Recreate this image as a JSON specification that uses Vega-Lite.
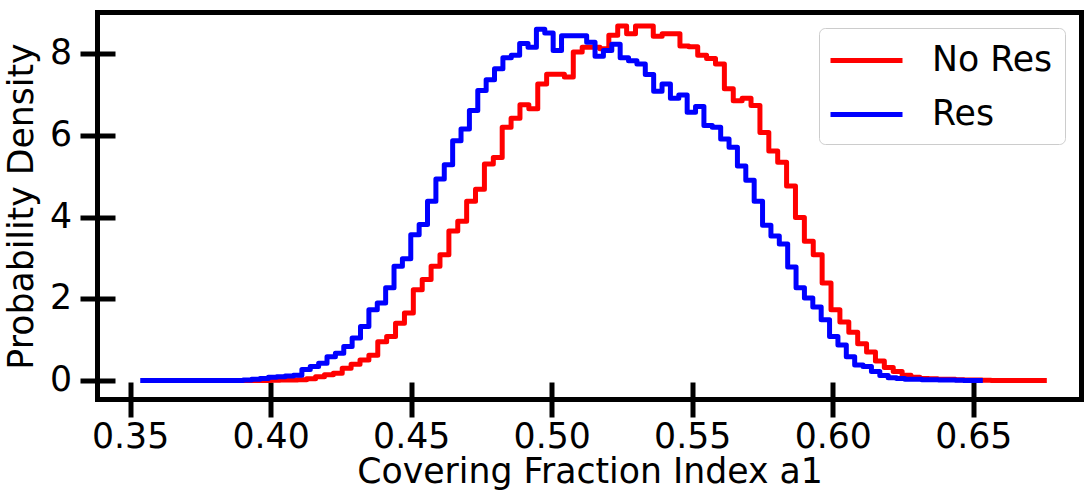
{
  "$schema": "https://vega.github.io/schema/vega-lite/v6.json",
  "width": 984,
  "height": 387,
  "autosize": "none",
  "padding": {"left": 97.5, "top": 12.5, "right": 6.5, "bottom": 97.5},
  "background": "white",
  "config": {
    "font": "DejaVu Sans",
    "view": {"stroke": "black", "strokeWidth": 5},
    "axis": {"grid": false, "domain": false, "labelFont": "DejaVu Sans", "titleFont": "DejaVu Sans", "labelColor": "black", "titleColor": "black", "tickColor": "black", "labelFontSize": 34.7, "titleFontSize": 34.7, "titleFontWeight": "normal", "tickWidth": 5, "tickSize": 35, "offset": -17.5, "labelFlush": false, "labelOverlap": false}
  },
  "datasets": {
    "red": [
      {"s":"No Res","x":0.35907,"y":0},{"s":"No Res","x":0.36223,"y":0},{"s":"No Res","x":0.3654,"y":0},{"s":"No Res","x":0.36856,"y":0},{"s":"No Res","x":0.37172,"y":0},{"s":"No Res","x":0.37488,"y":0},{"s":"No Res","x":0.37804,"y":0},{"s":"No Res","x":0.38121,"y":0},{"s":"No Res","x":0.38437,"y":0},{"s":"No Res","x":0.38753,"y":0},
      {"s":"No Res","x":0.39069,"y":0},{"s":"No Res","x":0.39385,"y":0},{"s":"No Res","x":0.39701,"y":0},{"s":"No Res","x":0.40018,"y":0.005},{"s":"No Res","x":0.40334,"y":0.01},{"s":"No Res","x":0.4065,"y":0.015},{"s":"No Res","x":0.40966,"y":0.02},{"s":"No Res","x":0.41282,"y":0.04},{"s":"No Res","x":0.41599,"y":0.09},{"s":"No Res","x":0.41915,"y":0.14},
      {"s":"No Res","x":0.42231,"y":0.18},{"s":"No Res","x":0.42547,"y":0.30},{"s":"No Res","x":0.42863,"y":0.40},{"s":"No Res","x":0.4318,"y":0.50},{"s":"No Res","x":0.43496,"y":0.62},{"s":"No Res","x":0.43812,"y":0.95},{"s":"No Res","x":0.44128,"y":1.08},{"s":"No Res","x":0.44444,"y":1.40},{"s":"No Res","x":0.44761,"y":1.65},{"s":"No Res","x":0.45077,"y":2.22},
      {"s":"No Res","x":0.45393,"y":2.47},{"s":"No Res","x":0.45709,"y":2.80},{"s":"No Res","x":0.46025,"y":3.08},{"s":"No Res","x":0.46342,"y":3.66},{"s":"No Res","x":0.46658,"y":3.90},{"s":"No Res","x":0.46974,"y":4.39},{"s":"No Res","x":0.4729,"y":4.68},{"s":"No Res","x":0.47606,"y":5.30},{"s":"No Res","x":0.47923,"y":5.46},{"s":"No Res","x":0.48239,"y":6.20},
      {"s":"No Res","x":0.48555,"y":6.42},{"s":"No Res","x":0.48871,"y":6.75},{"s":"No Res","x":0.49187,"y":6.65},{"s":"No Res","x":0.49504,"y":7.26},{"s":"No Res","x":0.4982,"y":7.50},{"s":"No Res","x":0.50136,"y":7.50},{"s":"No Res","x":0.50452,"y":7.43},{"s":"No Res","x":0.50768,"y":8.04},{"s":"No Res","x":0.51085,"y":8.16},{"s":"No Res","x":0.51401,"y":8.16},
      {"s":"No Res","x":0.51717,"y":8.12},{"s":"No Res","x":0.52033,"y":8.45},{"s":"No Res","x":0.52349,"y":8.68},{"s":"No Res","x":0.52666,"y":8.49},{"s":"No Res","x":0.52982,"y":8.68},{"s":"No Res","x":0.53298,"y":8.68},{"s":"No Res","x":0.53614,"y":8.43},{"s":"No Res","x":0.5393,"y":8.49},{"s":"No Res","x":0.54247,"y":8.49},{"s":"No Res","x":0.54563,"y":8.19},
      {"s":"No Res","x":0.54879,"y":8.17},{"s":"No Res","x":0.55195,"y":7.96},{"s":"No Res","x":0.55511,"y":7.88},{"s":"No Res","x":0.55828,"y":7.75},{"s":"No Res","x":0.56144,"y":7.14},{"s":"No Res","x":0.5646,"y":6.85},{"s":"No Res","x":0.56776,"y":6.91},{"s":"No Res","x":0.57092,"y":6.73},{"s":"No Res","x":0.57409,"y":6.07},{"s":"No Res","x":0.57725,"y":5.62},
      {"s":"No Res","x":0.58041,"y":5.34},{"s":"No Res","x":0.58357,"y":4.76},{"s":"No Res","x":0.58673,"y":3.99},{"s":"No Res","x":0.5899,"y":3.41},{"s":"No Res","x":0.59306,"y":3.08},{"s":"No Res","x":0.59622,"y":2.39},{"s":"No Res","x":0.59938,"y":1.73},{"s":"No Res","x":0.60254,"y":1.43},{"s":"No Res","x":0.60571,"y":1.18},{"s":"No Res","x":0.60887,"y":0.90},
      {"s":"No Res","x":0.61203,"y":0.70},{"s":"No Res","x":0.61519,"y":0.48},{"s":"No Res","x":0.61835,"y":0.32},{"s":"No Res","x":0.62152,"y":0.22},{"s":"No Res","x":0.62468,"y":0.13},{"s":"No Res","x":0.62784,"y":0.08},{"s":"No Res","x":0.631,"y":0.05},{"s":"No Res","x":0.63416,"y":0.04},{"s":"No Res","x":0.63733,"y":0.03},{"s":"No Res","x":0.64049,"y":0.03},
      {"s":"No Res","x":0.64365,"y":0.02},{"s":"No Res","x":0.64681,"y":0.015},{"s":"No Res","x":0.64997,"y":0.01},{"s":"No Res","x":0.65314,"y":0.005},{"s":"No Res","x":0.6563,"y":0},{"s":"No Res","x":0.65946,"y":0},{"s":"No Res","x":0.66262,"y":0},{"s":"No Res","x":0.66578,"y":0},{"s":"No Res","x":0.66895,"y":0},{"s":"No Res","x":0.67211,"y":0},
      {"s":"No Res","x":0.67527,"y":0}
    ],
    "blue": [
      {"s":"Res","x":0.3545,"y":0},{"s":"Res","x":0.35748,"y":0},{"s":"Res","x":0.36046,"y":0},{"s":"Res","x":0.36344,"y":0},{"s":"Res","x":0.36642,"y":0},{"s":"Res","x":0.3694,"y":0},{"s":"Res","x":0.37238,"y":0},{"s":"Res","x":0.37536,"y":0},{"s":"Res","x":0.37834,"y":0},{"s":"Res","x":0.38132,"y":0},
      {"s":"Res","x":0.3843,"y":0},{"s":"Res","x":0.38728,"y":0},{"s":"Res","x":0.39026,"y":0.01},{"s":"Res","x":0.39324,"y":0.03},{"s":"Res","x":0.39622,"y":0.05},{"s":"Res","x":0.3992,"y":0.08},{"s":"Res","x":0.40218,"y":0.09},{"s":"Res","x":0.40516,"y":0.11},{"s":"Res","x":0.40814,"y":0.13},{"s":"Res","x":0.41112,"y":0.27},
      {"s":"Res","x":0.4141,"y":0.34},{"s":"Res","x":0.41708,"y":0.42},{"s":"Res","x":0.42006,"y":0.58},{"s":"Res","x":0.42304,"y":0.67},{"s":"Res","x":0.42602,"y":0.83},{"s":"Res","x":0.429,"y":1.04},{"s":"Res","x":0.43198,"y":1.32},{"s":"Res","x":0.43496,"y":1.73},{"s":"Res","x":0.43794,"y":1.90},{"s":"Res","x":0.44092,"y":2.27},
      {"s":"Res","x":0.4439,"y":2.80},{"s":"Res","x":0.44688,"y":2.98},{"s":"Res","x":0.44986,"y":3.57},{"s":"Res","x":0.45284,"y":3.82},{"s":"Res","x":0.45582,"y":4.39},{"s":"Res","x":0.4588,"y":4.93},{"s":"Res","x":0.46178,"y":5.28},{"s":"Res","x":0.46476,"y":5.87},{"s":"Res","x":0.46774,"y":6.16},{"s":"Res","x":0.47072,"y":6.61},
      {"s":"Res","x":0.4737,"y":7.10},{"s":"Res","x":0.47668,"y":7.36},{"s":"Res","x":0.47966,"y":7.63},{"s":"Res","x":0.48264,"y":7.90},{"s":"Res","x":0.48562,"y":7.96},{"s":"Res","x":0.4886,"y":8.25},{"s":"Res","x":0.49158,"y":8.16},{"s":"Res","x":0.49456,"y":8.60},{"s":"Res","x":0.49754,"y":8.51},{"s":"Res","x":0.50052,"y":8.08},
      {"s":"Res","x":0.5035,"y":8.44},{"s":"Res","x":0.50648,"y":8.44},{"s":"Res","x":0.50946,"y":8.44},{"s":"Res","x":0.51244,"y":8.28},{"s":"Res","x":0.51542,"y":7.94},{"s":"Res","x":0.5184,"y":8.08},{"s":"Res","x":0.52138,"y":8.23},{"s":"Res","x":0.52436,"y":7.90},{"s":"Res","x":0.52734,"y":7.83},{"s":"Res","x":0.53032,"y":7.75},
      {"s":"Res","x":0.5333,"y":7.49},{"s":"Res","x":0.53628,"y":7.08},{"s":"Res","x":0.53926,"y":7.26},{"s":"Res","x":0.54224,"y":6.91},{"s":"Res","x":0.54522,"y":6.99},{"s":"Res","x":0.5482,"y":6.57},{"s":"Res","x":0.55118,"y":6.71},{"s":"Res","x":0.55416,"y":6.24},{"s":"Res","x":0.55714,"y":6.20},{"s":"Res","x":0.56012,"y":5.91},
      {"s":"Res","x":0.5631,"y":5.71},{"s":"Res","x":0.56608,"y":5.25},{"s":"Res","x":0.56906,"y":4.90},{"s":"Res","x":0.57204,"y":4.39},{"s":"Res","x":0.57502,"y":3.80},{"s":"Res","x":0.578,"y":3.54},{"s":"Res","x":0.58098,"y":3.34},{"s":"Res","x":0.58396,"y":2.78},{"s":"Res","x":0.58694,"y":2.27},{"s":"Res","x":0.58992,"y":2.02},
      {"s":"Res","x":0.5929,"y":1.80},{"s":"Res","x":0.59588,"y":1.49},{"s":"Res","x":0.59886,"y":1.08},{"s":"Res","x":0.60184,"y":0.87},{"s":"Res","x":0.60482,"y":0.58},{"s":"Res","x":0.6078,"y":0.38},{"s":"Res","x":0.61078,"y":0.34},{"s":"Res","x":0.61376,"y":0.22},{"s":"Res","x":0.61674,"y":0.12},{"s":"Res","x":0.61972,"y":0.07},
      {"s":"Res","x":0.6227,"y":0.05},{"s":"Res","x":0.62568,"y":0.03},{"s":"Res","x":0.62866,"y":0.03},{"s":"Res","x":0.63164,"y":0.02},{"s":"Res","x":0.63462,"y":0.02},{"s":"Res","x":0.6376,"y":0.01},{"s":"Res","x":0.64058,"y":0.01},{"s":"Res","x":0.64356,"y":0.005},{"s":"Res","x":0.64654,"y":0},{"s":"Res","x":0.64952,"y":0},
      {"s":"Res","x":0.6525,"y":0}
    ]
  },
  "encoding": {
    "x": {"field": "x", "type": "quantitative", "scale": {"domain": [0.3384, 0.6885], "nice": false, "zero": false}, "axis": {"values": [0.35, 0.4, 0.45, 0.5, 0.55, 0.6, 0.65], "format": ".2f", "title": "Covering Fraction Index a1", "labelPadding": 3, "titlePadding": 2}},
    "y": {"field": "y", "type": "quantitative", "scale": {"domain": [-0.465, 9.009], "nice": false, "zero": false}, "axis": {"values": [0, 2, 4, 6, 8], "title": "Probability Density", "labelPadding": 8.3, "titlePadding": 10}},
    "color": {"field": "s", "type": "nominal", "scale": {"domain": ["No Res", "Res"], "range": ["#ff0000", "#0000ff"]},
      "legend": {"title": null, "orient": "none", "legendX": 721.5, "legendY": 15.5, "padding": 12, "strokeColor": "#cccccc", "cornerRadius": 6, "fillColor": "white", "symbolType": "M-2,0H2", "symbolStrokeWidth": 5, "symbolSize": 1296, "symbolOffset": 15, "labelFontSize": 34.7, "labelFont": "DejaVu Sans", "labelColor": "black", "labelOffset": 45, "rowPadding": 16}}
  },
  "layer": [
    {"data": {"name": "red"}, "mark": {"type": "line", "interpolate": "step-after", "strokeWidth": 5, "strokeCap": "square", "strokeJoin": "round", "clip": true}},
    {"data": {"name": "blue"}, "mark": {"type": "line", "interpolate": "step-after", "strokeWidth": 5, "strokeCap": "square", "strokeJoin": "round", "clip": true}}
  ]
}
